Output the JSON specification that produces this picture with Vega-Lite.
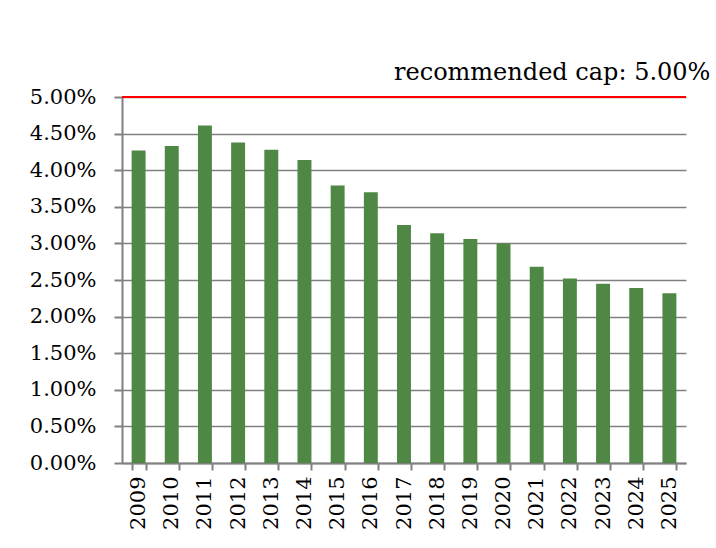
{
  "$schema": "https://vega.github.io/schema/vega-lite/v6.json",
  "width": 564,
  "height": 366,
  "autosize": "none",
  "padding": {"left": 122, "top": 97, "right": 30, "bottom": 85},
  "background": "white",
  "config": {
    "font": "DejaVu Serif",
    "view": {"stroke": null},
    "axis": {"labelFont": "DejaVu Serif", "labelColor": "black", "domainColor": "#808080", "domainWidth": 2, "tickColor": "#808080", "tickWidth": 2, "gridColor": "#808080", "gridWidth": 1.5, "labelOverlap": false}
  },
  "encoding": {
    "y": {"field": "rate", "type": "quantitative",
      "scale": {"domain": [0, 0.05], "nice": false},
      "axis": {"title": null, "format": ".2%", "values": [0, 0.005, 0.01, 0.015, 0.02, 0.025, 0.03, 0.035, 0.04, 0.045, 0.05], "tickCount": 20, "labelOverlap": false, "labelFontSize": 21, "tickSize": 8, "labelPadding": 18, "grid": true}}
  },
  "layer": [
    {
      "data": {
        "values": [
          {"year": "2009", "rate": 0.0427},
          {"year": "2010", "rate": 0.0433},
          {"year": "2011", "rate": 0.0461},
          {"year": "2012", "rate": 0.0438},
          {"year": "2013", "rate": 0.0428},
          {"year": "2014", "rate": 0.0414},
          {"year": "2015", "rate": 0.0379},
          {"year": "2016", "rate": 0.0370},
          {"year": "2017", "rate": 0.0325},
          {"year": "2018", "rate": 0.0314},
          {"year": "2019", "rate": 0.0306},
          {"year": "2020", "rate": 0.0300},
          {"year": "2021", "rate": 0.0268},
          {"year": "2022", "rate": 0.0252},
          {"year": "2023", "rate": 0.0245},
          {"year": "2024", "rate": 0.0239},
          {"year": "2025", "rate": 0.0232}
        ]
      },
      "mark": {"type": "bar", "color": "#4f8744"},
      "encoding": {
        "x": {"field": "year", "type": "nominal", "sort": null,
          "scale": {"paddingInner": 0.58, "paddingOuter": 0.29},
          "axis": {"title": null, "labelAngle": -90, "labelAlign": "right", "labelBaseline": "middle", "labelFontSize": 21, "labelPadding": 6, "tickBand": "extent", "tickSize": 7, "grid": false}}
      }
    },
    {
      "data": {"values": [{"rate": 0.05, "year": "2025", "label": "recommended cap: 5.00%"}]},
      "mark": {"type": "rule", "color": "#ff0000", "strokeWidth": 2},
      "encoding": {}
    },
    {
      "data": {"values": [{"rate": 0.05, "year": "2025", "label": "recommended cap: 5.00%"}]},
      "mark": {"type": "text", "align": "right", "baseline": "alphabetic", "fontSize": 24, "dx": 41, "dy": -17, "color": "black"},
      "encoding": {"x": {"field": "year", "type": "nominal"}, "text": {"field": "label"}}
    }
  ]
}
